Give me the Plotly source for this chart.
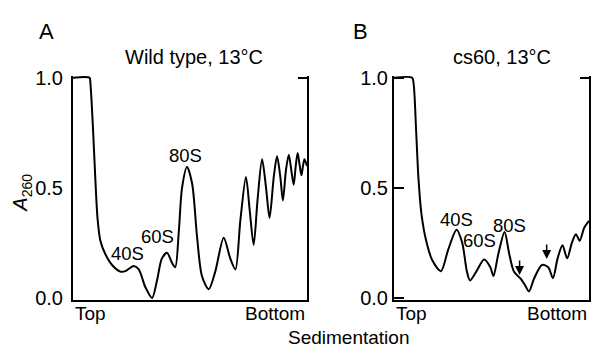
import plotly.graph_objects as go

# ---- data (position along gradient 0=Top .. 100=Bottom, A260) ----
wt_pos = [0, 7.1, 7.4, 8.5, 9.5, 10.5, 11.7, 13.8, 16.7, 20.2, 22.4, 25.9, 28.1, 30.9, 33.8,
          35.9, 38.0, 40.2, 42.3, 43.7, 45.2, 46.6, 48.7, 50.9, 53.0, 55.1, 58.0, 60.8,
          64.4, 67.2, 69.4, 71.5, 73.9, 75.5, 77.2, 78.9, 80.8, 82.5, 84.0, 85.8, 87.2,
          88.6, 89.7, 91.0, 92.2, 93.3, 94.3, 95.2, 96.0, 96.9, 97.6, 98.3, 98.9, 100]
wt_a260 = [1.0, 1.0, 0.98, 0.78, 0.55, 0.36, 0.26, 0.20, 0.15, 0.12, 0.122, 0.145, 0.13, 0.05, 0.0,
           0.08, 0.18, 0.205, 0.16, 0.14, 0.30, 0.50, 0.595, 0.52, 0.28, 0.10, 0.04, 0.12,
           0.274, 0.18, 0.13, 0.35, 0.55, 0.40, 0.241, 0.45, 0.63, 0.50, 0.364, 0.55, 0.644,
           0.55, 0.443, 0.58, 0.651, 0.58, 0.514, 0.60, 0.658, 0.60, 0.557, 0.60, 0.63, 0.60]

cs_pos = [0, 9.3, 10.1, 11.4, 12.5, 14.1, 16.5, 19.7, 24.1, 27.8, 32.1, 35.0, 37.4, 39.0,
          42.2, 46.2, 49.4, 51.0, 53.5, 56.7, 59.1, 61.5, 64.7, 67.1, 69.2, 71.9, 75.9,
          79.1, 81.5, 83.9, 86.4, 88.8, 91.2, 93.3, 95.2, 97.6, 100]
cs_a260 = [1.0, 1.0, 0.97, 0.75, 0.55, 0.38, 0.26, 0.17, 0.122, 0.22, 0.31, 0.25, 0.12, 0.08,
           0.12, 0.175, 0.14, 0.10, 0.20, 0.30, 0.20, 0.12, 0.09, 0.06, 0.03, 0.09, 0.15,
           0.14, 0.09, 0.18, 0.24, 0.18, 0.25, 0.29, 0.26, 0.32, 0.35]

peak_names = ["40S", "60S", "80S"]
y_ticks = [0.0, 0.5, 1.0]
y_ticktext = ["0.0", "0.5", "1.0"]
arrow_pos_cs = [64.4, 78.3]

# ---- label placement ----
wt_label_xy = [(23.5, 0.20), (36.1, 0.28), (47.9, 0.647)]
cs_label_xy = [(32.1, 0.356), (44.0, 0.26), (59.4, 0.33)]
arrow_tip_cs = [0.105, 0.177]
arrow_tail_cs = [0.177, 0.25]

FONT = "Arial, Liberation Sans, Helvetica, sans-serif"
FS = 19
LW = 2
W, H = 605, 356
OFF = 8  # page body margin


def px(x):
    return (x - OFF) / W


def py(y):
    return (H - (y - OFF)) / H


fig = go.Figure()
fig.add_trace(go.Scatter(x=wt_pos, y=wt_a260, mode="lines", xaxis="x", yaxis="y",
                         line=dict(color="black", width=LW, shape="spline", smoothing=0.8),
                         showlegend=False))
fig.add_trace(go.Scatter(x=cs_pos, y=cs_a260, mode="lines", xaxis="x2", yaxis="y2",
                         line=dict(color="black", width=LW, shape="spline", smoothing=0.8),
                         showlegend=False))
# invisible helpers so the right-hand frame axes are rendered
fig.add_trace(go.Scatter(x=wt_pos[:1], y=wt_a260[:1], mode="lines", xaxis="x", yaxis="y3",
                         line=dict(width=0), hoverinfo="skip", showlegend=False))
fig.add_trace(go.Scatter(x=cs_pos[:1], y=cs_a260[:1], mode="lines", xaxis="x2", yaxis="y4",
                         line=dict(width=0), hoverinfo="skip", showlegend=False))

pad = 2.3
ydom = [py(304 + pad), py(72 - pad)]
yrange = [-0.01, 1.01]

xax = dict(range=[0, 100], showline=True, linecolor="black", linewidth=LW,
           showticklabels=False, ticks="", showgrid=False, zeroline=False, fixedrange=True)
yax_common = dict(range=yrange, domain=ydom, showline=True, linecolor="black", linewidth=LW,
                  tickvals=y_ticks, ticktext=y_ticktext, tickfont=dict(size=20, color="black"),
                  showgrid=False, zeroline=False, tickwidth=LW, mirror=True)
yright = dict(range=yrange, domain=ydom, side="right", showline=True, linecolor="black",
              linewidth=LW, tickvals=[1.0], ticks="inside", ticklen=9, tickwidth=LW,
              tickcolor="black", showticklabels=False, showgrid=False, zeroline=False)

fig.update_layout(
    width=W, height=H,
    margin=dict(l=0, r=0, t=0, b=0),
    paper_bgcolor="white", plot_bgcolor="white",
    font=dict(family=FONT, size=FS, color="black"),
    xaxis=dict(domain=[px(73), px(307)], anchor="y", **xax),
    xaxis2=dict(domain=[px(394), px(589)], anchor="y2", **xax),
    yaxis=dict(anchor="x", ticks="outside", ticklen=4, tickcolor="rgba(0,0,0,0)", **yax_common),
    yaxis2=dict(anchor="x2", ticks="inside", ticklen=10, tickcolor="black", **yax_common),
    yaxis3=dict(overlaying="y", anchor="x", **yright),
    yaxis4=dict(overlaying="y2", anchor="x2", **yright),
)

ann = []
C = dict(xref="paper", yref="paper", showarrow=False, xanchor="center", yanchor="middle")
ann.append(dict(text="A", x=px(46), y=py(23), font=dict(size=22), **C))
ann.append(dict(text="B", x=px(360), y=py(23), font=dict(size=22), **C))
ann.append(dict(text="Wild type, 13°C", x=px(194), y=py(50), font=dict(size=20), **C))
ann.append(dict(text="cs60, 13°C", x=px(502), y=py(50), font=dict(size=20), **C))
ann.append(dict(text="<i>A</i><sub>260</sub>", x=px(22), y=py(193), textangle=-90,
                font=dict(size=20), **C))
ann.append(dict(text="Sedimentation", x=px(348), y=py(346), **C))
for xr in ["x", "x2"]:
    ann.append(dict(text="Top", x=0, xref=xr + " domain", xanchor="left",
                    y=py(320), yref="paper", yanchor="middle", showarrow=False))
    ann.append(dict(text="Bottom", x=1, xref=xr + " domain", xanchor="right",
                    y=py(320), yref="paper", yanchor="middle", showarrow=False))
for name, (lx, ly) in zip(peak_names, wt_label_xy):
    ann.append(dict(text=name, x=lx, y=ly, xref="x", yref="y", showarrow=False,
                    xanchor="center", yanchor="middle", font=dict(size=18.5)))
for name, (lx, ly) in zip(peak_names, cs_label_xy):
    ann.append(dict(text=name, x=lx, y=ly, xref="x2", yref="y2", showarrow=False,
                    xanchor="center", yanchor="middle", font=dict(size=18.5)))
for ax_x, tip, tail in zip(arrow_pos_cs, arrow_tip_cs, arrow_tail_cs):
    ann.append(dict(x=ax_x, y=tip, ax=ax_x, ay=tail, xref="x2", yref="y2",
                    axref="x2", ayref="y2", showarrow=True, arrowhead=2,
                    arrowsize=1.2, arrowwidth=1.5, arrowcolor="black", text=""))
fig.update_layout(annotations=ann)

fig.write_html("out.html")
